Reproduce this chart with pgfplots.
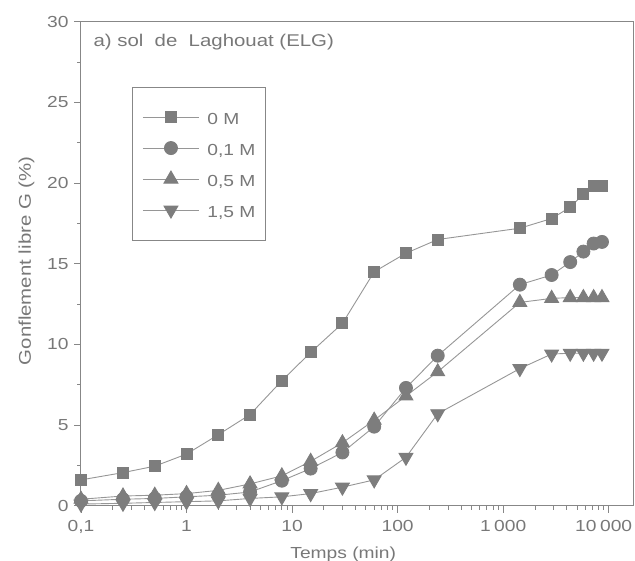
\documentclass[border=0pt]{standalone}
\usepackage{fontspec}
\setmainfont{Liberation Sans}[FakeStretch=1.2]
\usepackage{pgfplots}
\usepackage{pgfplotstable}
\pgfplotsset{compat=1.18}

\definecolor{axgray}{RGB}{135,135,135}
\definecolor{txtgray}{RGB}{120,120,120}
\definecolor{linegray}{RGB}{150,150,150}
\definecolor{mkgray}{RGB}{125,125,125}

% Free swell G (%) versus time (min) for each NaCl concentration
\pgfplotstableread{
t      m0     m01    m05    m15
0.1    1.6    0.30   0.40   0.10
0.25   2.05   0.40   0.60   0.15
0.5    2.45   0.45   0.65   0.20
1      3.2    0.55   0.75   0.25
2      4.4    0.65   0.95   0.30
4      5.65   0.85   1.35   0.45
8      7.75   1.55   1.85   0.55
15     9.5    2.30   2.75   0.75
30     11.3   3.30   3.90   1.15
60     14.5   4.90   5.30   1.60
120    15.65  7.30   6.80   3.00
240    16.5   9.30   8.30   5.70
1440   17.2   13.70  12.60  8.50
2880   17.8   14.30  12.85  9.40
4320   18.5   15.10  12.90  9.45
5760   19.3   15.75  12.90  9.45
7200   19.8   16.25  12.90  9.45
8640   19.8   16.35  12.90  9.45
}\swell

\begin{document}
\begin{tikzpicture}
\begin{axis}[
  xmode=log,
  scale only axis, width=552bp, height=484bp,
  xmin=0.1, xmax=17000, ymin=0, ymax=30,
  clip=false,
  xtick={0.1,1,10,100,1000,10000},
  xticklabels={{0,1},1,10,100,{1\kern3.5bp 000},{\hspace*{-10bp}10\kern3.5bp 000}},
  minor xtick={0.2,0.3,0.4,0.5,0.6,0.7,0.8,0.9,2,3,4,5,6,7,8,9,20,30,40,50,60,70,80,90,200,300,400,500,600,700,800,900,2000,3000,4000,5000,6000,7000,8000,9000},
  ytick={0,5,...,30},
  minor ytick={2.5,7.5,...,27.5},
  tick align=outside, xtick pos=left, ytick pos=left,
  major tick length=7bp, minor tick length=4bp,
  axis line style={axgray, line width=1bp},
  every tick/.style={axgray, line width=0.8bp},
  tick label style={font=\fontsize{16bp}{19bp}\selectfont, text=txtgray},
  xticklabel style={yshift=-4bp},
  yticklabel style={xshift=-2bp},
  /pgf/number format/assume math mode=true,
  xlabel={Temps (min)},
  ylabel={Gonflement libre G (\%)},
  xlabel style={font=\fontsize{16bp}{19bp}\selectfont, text=txtgray,
    at={(axis description cs:0.475,0)}, anchor=base, yshift=-52.3bp},
  ylabel style={font=\fontsize{17bp}{20bp}\selectfont, text=txtgray,
    at={(axis description cs:0,0.506)}, anchor=base, yshift=50bp},
  every axis plot/.append style={line width=0.9bp, color=linegray,
    mark options={fill=mkgray, draw=mkgray, solid}},
  legend image code/.code={%
    \draw[mark repeat=2,mark phase=2] plot coordinates {(0bp,0bp) (28bp,0bp) (56bp,0bp)};},
  legend style={at={(rel axis cs:0.0924,0.866)}, anchor=north west,
    draw=axgray, line width=1bp, inner xsep=10bp, inner ysep=20bp,
    font=\fontsize{16bp}{19bp}\selectfont, text=txtgray,
    nodes={inner sep=0pt, text height=17bp, text depth=3bp},
    row sep=11bp,
    /tikz/every odd column/.append style={column sep=8bp}},
  legend cell align=left,
]
\addplot[mark=square*, mark size=5.5bp] table[x=t, y=m0] {\swell};
\addlegendentry{0 M}
\addplot[mark=*, mark size=6.5bp] table[x=t, y=m01] {\swell};
\addlegendentry{0,1 M}
\addplot[mark=triangle*, mark size=8bp] table[x=t, y=m05] {\swell};
\addlegendentry{0,5 M}
\addplot[mark=triangle*, mark size=8bp,
  mark options={rotate=180, fill=mkgray, draw=mkgray, solid}] table[x=t, y=m15] {\swell};
\addlegendentry{1,5 M}
\node[anchor=base west, xshift=9bp, yshift=-24.7bp, text=txtgray,
  font=\fontsize{17bp}{20bp}\selectfont] at (rel axis cs:0,1)
  {a)\ sol\ \ de\ \ Laghouat (ELG)};
\end{axis}
\pgfresetboundingbox
\path[use as bounding box] (current axis.south west) ++(-81bp,-55.3bp) rectangle ++(635bp,561bp);
\end{tikzpicture}
\end{document}
